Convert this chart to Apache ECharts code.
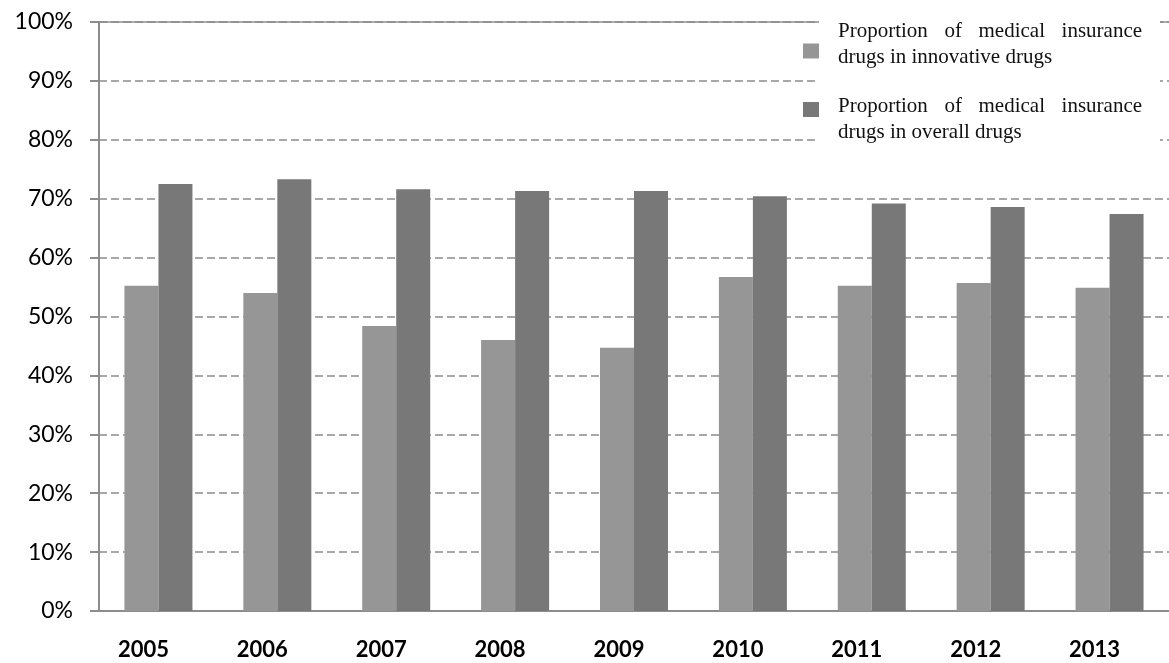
<!DOCTYPE html>
<html>
<head>
<meta charset="utf-8">
<script src="https://cdn.jsdelivr.net/npm/echarts@6/dist/echarts.min.js"></script>
<style>
  html, body { margin: 0; padding: 0; background: #fff; }
  #chart { width: 1169px; height: 663px; }
</style>
</head>
<body>
<div id="chart"></div>
<script>
// data
const years = ["2005", "2006", "2007", "2008", "2009", "2010", "2011", "2012", "2013"];
const innovativeShare = [55.2, 54.0, 48.4, 46.0, 44.7, 56.7, 55.2, 55.7, 54.9];
const overallShare = [72.5, 73.3, 71.6, 71.3, 71.3, 70.4, 69.2, 68.6, 67.4];

const nameInnovative = "Proportion of medical insurance drugs in innovative drugs";
const nameOverall = "Proportion of medical insurance drugs in overall drugs";

const chart = echarts.init(document.getElementById("chart"));

// legend first line is justified like the original
const justifiedHead = "{w|Proportion}{g| }{w|of}{g| }{w|medical}{g| }{w|insurance}";
const legendFormatter = (name) => {
  if (name === nameInnovative) return justifiedHead + "\n{w|drugs in innovative drugs}";
  return justifiedHead + "\n{w|drugs in overall drugs}";
};

const legendText = {
  fontFamily: "Liberation Serif",
  fontSize: 21,
  color: "#111",
  rich: {
    w: { fontFamily: "Liberation Serif", fontSize: 21, color: "#111", lineHeight: 26 },
    g: { fontFamily: "Liberation Serif", fontSize: 21, width: 16.6, lineHeight: 26 }
  }
};

const option = {
  animation: false,
  grid: { left: 99, right: -4, top: 22, bottom: 52 },
  legend: [
    {
      left: 803,
      top: 21,
      padding: 0,
      z: 10,
      icon: "rect",
      itemWidth: 16,
      itemHeight: 15,
      selectedMode: false,
      formatter: legendFormatter,
      textStyle: legendText,
      data: [{ name: nameInnovative, textStyle: { padding: [0, 0, 13, 14] } }]
    },
    {
      left: 803,
      top: 96,
      padding: 0,
      z: 10,
      icon: "rect",
      itemWidth: 16,
      itemHeight: 15,
      selectedMode: false,
      formatter: legendFormatter,
      textStyle: legendText,
      data: [{ name: nameOverall, textStyle: { padding: [20, 0, 0, 14] } }]
    }
  ],
  graphic: [
    {
      type: "rect",
      z: 3,
      shape: { x: 819, y: 10, width: 341, height: 162 },
      style: { fill: "#fff" }
    }
  ],
  xAxis: [
    {
      type: "category",
      data: years,
      axisLine: { lineStyle: { color: "#8c8c8c", width: 2 } },
      axisTick: { length: 9, lineStyle: { color: "#8c8c8c", width: 2 } },
      axisLabel: {
        margin: 28,
        color: "#000",
        fontFamily: "Lato",
        fontWeight: "bold",
        fontSize: 22,
        padding: [0, 30, 0, 0]
      }
    },
    {
      type: "category",
      data: years,
      position: "top",
      axisLine: { lineStyle: { color: "#8c8c8c", width: 1.5 } },
      axisTick: { show: false },
      axisLabel: { show: false }
    }
  ],
  yAxis: {
    type: "value",
    min: 0,
    max: 100,
    interval: 10,
    axisLine: { show: true, lineStyle: { color: "#8c8c8c", width: 2 } },
    axisTick: { show: true, length: 9, lineStyle: { color: "#8c8c8c", width: 2 } },
    axisLabel: {
      margin: 26,
      color: "#000",
      fontFamily: "Lato",
      fontSize: 23,
      formatter: "{value}%"
    },
    splitLine: {
      lineStyle: { type: [8, 4], color: "#8c8c8c", width: 1.5 }
    }
  },
  series: [
    {
      name: nameInnovative,
      type: "bar",
      data: innovativeShare,
      barWidth: 34,
      barGap: "0%",
      itemStyle: { color: "#969696" }
    },
    {
      name: nameOverall,
      type: "bar",
      data: overallShare,
      barWidth: 34,
      barGap: "0%",
      itemStyle: { color: "#787878" }
    }
  ]
};

chart.setOption(option);
</script>
</body>
</html>
